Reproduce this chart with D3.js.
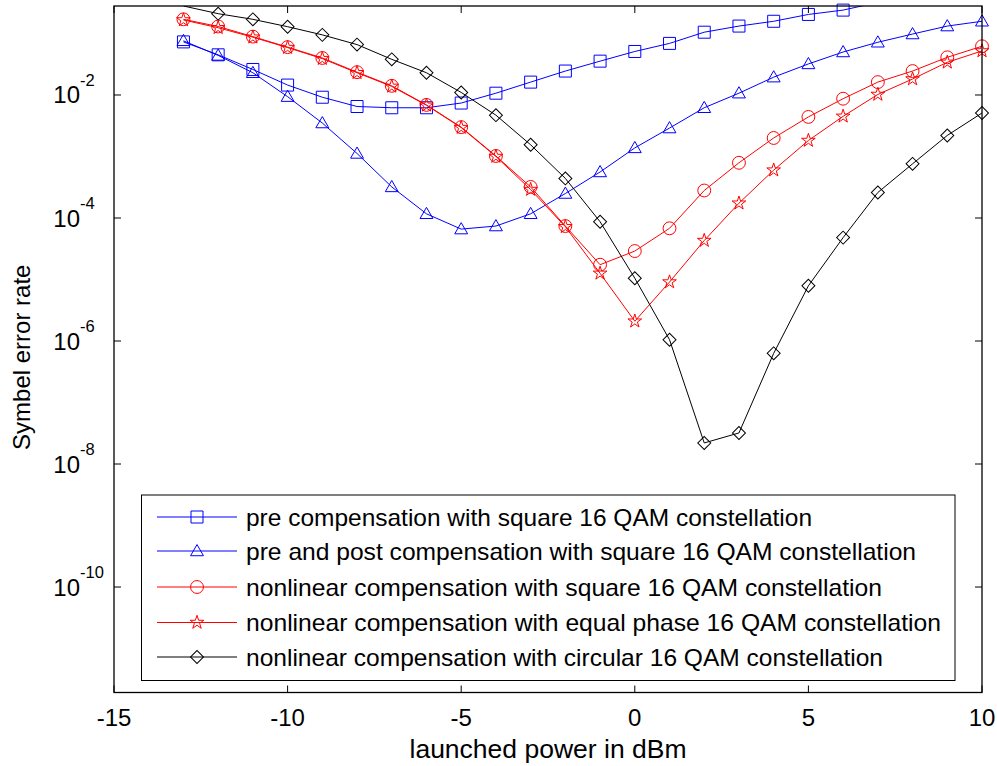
<!DOCTYPE html>
<html>
<head>
<meta charset="utf-8">
<script src="https://cdn.jsdelivr.net/npm/d3@7"></script>
<style>
  html, body { margin: 0; padding: 0; background: #fff; }
  svg { display: block; }
  text { font-family: "Liberation Sans", Arial, Helvetica, sans-serif; fill: #000; }
</style>
</head>
<body>
<svg id="chart" width="997" height="766"></svg>
<script>
// ---------------- data ----------------
const powerDbm = [-13, -12, -11, -10, -9, -8, -7, -6, -5, -4, -3, -2, -1, 0, 1, 2, 3, 4, 5, 6, 7, 8, 9, 10];

const serPreSquare = [7.3e-2, 4.5e-2, 2.6e-2, 1.45e-2, 9.2e-3, 6.5e-3, 6.2e-3, 6.2e-3, 7.4e-3, 1.07e-2, 1.62e-2, 2.45e-2,
  3.55e-2, 5.1e-2, 6.9e-2, 1.05e-1, 1.32e-1, 1.58e-1, 2.04e-1, 2.4e-1, 3.2e-1, 3.8e-1, 4.4e-1, 4.9e-1];

const serPrePostSquare = [7.6e-2, 4.4e-2, 2.3e-2, 9.4e-3, 3.5e-3, 1.12e-3, 3.2e-4, 1.17e-4, 6.6e-5, 7.4e-5, 1.17e-4, 2.5e-4,
  5.6e-4, 1.38e-3, 2.9e-3, 6.2e-3, 1.07e-2, 1.95e-2, 3.2e-2, 5.0e-2, 7.2e-2, 9.8e-2, 1.32e-1, 1.58e-1];

const serNlSquare = [1.7e-1, 1.3e-1, 8.9e-2, 6.0e-2, 4.0e-2, 2.35e-2, 1.41e-2, 6.9e-3, 3.0e-3, 1.02e-3, 3.2e-4, 7.4e-5,
  1.74e-5, 2.9e-5, 6.8e-5, 2.8e-4, 7.9e-4, 2.0e-3, 4.4e-3, 8.7e-3, 1.62e-2, 2.45e-2, 4.1e-2, 6.2e-2];

const serNlEqualPhase = [1.66e-1, 1.24e-1, 8.7e-2, 5.9e-2, 3.9e-2, 2.3e-2, 1.38e-2, 6.8e-3, 2.95e-3, 1.0e-3, 2.9e-4, 7.2e-5,
  1.26e-5, 2.1e-6, 9.1e-6, 4.3e-5, 1.74e-4, 6.0e-4, 1.82e-3, 4.5e-3, 1.02e-2, 1.82e-2, 3.4e-2, 5.2e-2];

const serNlCircular = [2.8e-1, 2.1e-1, 1.7e-1, 1.29e-1, 9.5e-2, 6.6e-2, 3.8e-2, 2.3e-2, 1.1e-2, 4.7e-3, 1.55e-3, 4.4e-4,
  8.7e-5, 1.05e-5, 1.05e-6, 2.2e-8, 3.2e-8, 6.3e-7, 7.9e-6, 4.8e-5, 2.6e-4, 7.6e-4, 2.2e-3, 5.1e-3];

const seriesNames = [
  "pre compensation with square 16 QAM constellation",
  "pre and post compensation with square 16 QAM constellation",
  "nonlinear compensation with square 16 QAM constellation",
  "nonlinear compensation with equal phase 16 QAM constellation",
  "nonlinear compensation with circular 16 QAM constellation"
];
const seriesValues = [serPreSquare, serPrePostSquare, serNlSquare, serNlEqualPhase, serNlCircular];
const seriesColors = ["#0000ff", "#0000ff", "#ff0000", "#ff0000", "#000000"];
const seriesMarkers = ["square", "triangle", "circle", "star", "diamond"];

const xTicks = [-15, -10, -5, 0, 5, 10];
const yTickExponents = [-2, -4, -6, -8, -10];
const xLabel = "launched power in dBm";
const yLabel = "Symbel error rate";

// ---------------- layout ----------------
const svg = d3.select("#chart");
const L = 114, R = 982, T = 6, B = 692.5;

const x = d3.scaleLinear().domain([-15, 10]).range([L, R]);
// 1e-2 at y=95, 1e-10 at y=587
const y = d3.scaleLog().domain([Math.pow(10, -11.715), Math.pow(10, -0.553)]).range([B, T]);

svg.append("defs").append("clipPath").attr("id", "plotclip")
  .append("rect").attr("x", L).attr("y", T).attr("width", R - L).attr("height", B - T);

function markerPath(type) {
  switch (type) {
    case "square": return d3.symbol().type(d3.symbolSquare).size(144)();
    case "triangle": return d3.symbol().type(d3.symbolTriangle).size(72)();
    case "circle": return d3.symbol().type(d3.symbolCircle).size(130)();
    case "star": return d3.symbol().type(d3.symbolStar).size(58)();
    case "diamond": return d3.symbol().type(d3.symbolSquare).size(84)();
  }
}
function markerTransform(type, px, py) {
  if (type === "diamond") return `translate(${px},${py}) rotate(45)`;
  if (type === "triangle") return `translate(${px},${py + 1})`;
  return `translate(${px},${py})`;
}

// ---------------- series ----------------
const line = d3.line().x(d => x(d[0])).y(d => y(d[1]));
const plot = svg.append("g");
seriesValues.forEach((vals, i) => {
  const pts = powerDbm.map((p, k) => [p, vals[k]]);
  plot.append("path")
    .attr("clip-path", "url(#plotclip)")
    .attr("d", line(pts))
    .attr("fill", "none")
    .attr("stroke", seriesColors[i])
    .attr("stroke-width", 1);
  const [ymin, ymax] = y.domain();
  plot.selectAll(null)
    .data(pts.filter(d => d[1] >= ymin && d[1] <= ymax))
    .enter().append("path")
    .attr("d", markerPath(seriesMarkers[i]))
    .attr("transform", d => markerTransform(seriesMarkers[i], x(d[0]), y(d[1])))
    .attr("fill", "none")
    .attr("stroke", seriesColors[i])
    .attr("stroke-width", 1);
});

// ---------------- axes ----------------
const tickLen = 7;
const ax = svg.append("g");
ax.append("rect").attr("x", L).attr("y", T).attr("width", R - L).attr("height", B - T)
  .attr("fill", "none").attr("stroke", "#000").attr("stroke-width", 1.3);

xTicks.forEach(t => {
  const px = x(t);
  ax.append("line").attr("x1", px).attr("x2", px).attr("y1", B).attr("y2", B - tickLen).attr("stroke", "#000");
  ax.append("line").attr("x1", px).attr("x2", px).attr("y1", T).attr("y2", T + tickLen).attr("stroke", "#000");
  ax.append("text").attr("x", px).attr("y", 726).attr("text-anchor", "middle")
    .attr("font-size", 24).text(t);
});

yTickExponents.forEach(e => {
  const py = y(Math.pow(10, e));
  ax.append("line").attr("x1", L).attr("x2", L + tickLen).attr("y1", py).attr("y2", py).attr("stroke", "#000");
  ax.append("line").attr("x1", R).attr("x2", R - tickLen).attr("y1", py).attr("y2", py).attr("stroke", "#000");
  ax.append("text").attr("x", 80).attr("y", py + 8.5).attr("text-anchor", "end")
    .attr("font-size", 24).text("10");
  ax.append("text").attr("x", 80).attr("y", py - 9).attr("text-anchor", "start")
    .attr("font-size", 16.5).text(e);
});

ax.append("text").attr("x", (L + R) / 2).attr("y", 758).attr("text-anchor", "middle")
  .attr("font-size", 25).attr("textLength", 277).attr("lengthAdjust", "spacingAndGlyphs").text(xLabel);
ax.append("text").attr("transform", `translate(30,${(T + B) / 2 + 8}) rotate(-90)`)
  .attr("text-anchor", "middle").attr("font-size", 24).text(yLabel);

// ---------------- legend ----------------
const lg = svg.append("g");
lg.append("rect").attr("x", 141.5).attr("y", 495).attr("width", 813.5).attr("height", 185.5)
  .attr("fill", "#fff").attr("stroke", "#000").attr("stroke-width", 1);
const legendRows = [517, 551, 587, 622.5, 657];
const legendTextEnds = [812, 916, 882, 941, 883];
seriesNames.forEach((name, i) => {
  const ly = legendRows[i];
  lg.append("line").attr("x1", 157).attr("x2", 237).attr("y1", ly).attr("y2", ly)
    .attr("stroke", seriesColors[i]).attr("stroke-width", 1);
  lg.append("path").attr("d", markerPath(seriesMarkers[i]))
    .attr("transform", markerTransform(seriesMarkers[i], 197, ly))
    .attr("fill", "none").attr("stroke", seriesColors[i]).attr("stroke-width", 1);
  lg.append("text").attr("x", 246).attr("y", ly + 8.5).attr("font-size", 24)
    .attr("textLength", legendTextEnds[i] - 246).attr("lengthAdjust", "spacingAndGlyphs").text(name);
});
</script>
</body>
</html>
